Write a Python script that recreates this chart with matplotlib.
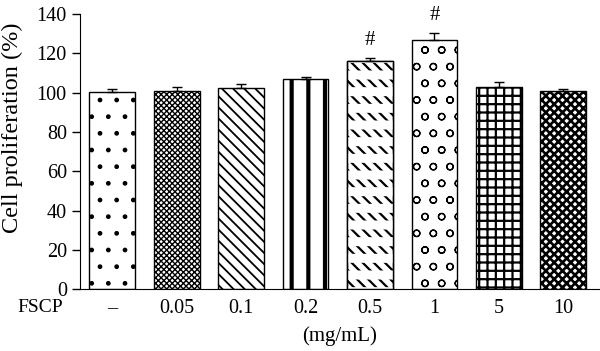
import matplotlib.pyplot as plt
import numpy as np

# data
doses = ['–', '0.05', '0.1', '0.2', '0.5', '1', '5', '10']
prolif = [100.2, 101.0, 102.6, 107.0, 116.2, 127.0, 103.0, 100.6]
err_up = [1.6, 1.8, 1.8, 0.8, 1.3, 3.6, 2.3, 1.1]
marks = ['', '', '', '', '#', '#', '', '']
hatches = ['.', 'xxxxxx', '\\\\\\', '|', '\\\\\\', 'o', '++', 'xxxx']
hatch_lw = [1.0, 1.0, 1.3, 3.0, 1.6, 0.9, 1.6, 1.9]

plt.rcParams['font.family'] = ['Liberation Serif', 'DejaVu Serif']

fig = plt.figure(figsize=(6, 3.51), dpi=100)
ax = fig.add_axes([0.1333, 0.176, 0.8667, 0.784])

x = np.arange(len(doses))
w = 0.71
for i in range(len(doses)):
    b = ax.bar(x[i], prolif[i], width=w, color='white', edgecolor='black',
               linewidth=1.0, hatch=hatches[i], zorder=2)
    try:
        b[0].set_hatch_linewidth(hatch_lw[i])
    except AttributeError:
        pass

# 0.5 mg/mL: cut the diagonal hatch into short dashed rows
cut = ax.bar(x[4], prolif[4], width=w, fill=False, edgecolor='white',
             linewidth=0, hatch='-', zorder=2.5)
try:
    cut[0].set_hatch_linewidth(6.5)
except AttributeError:
    pass
ax.bar(x[4], prolif[4], width=w, fill=False, edgecolor='black',
       linewidth=1.0, zorder=2.6)

ax.errorbar(x, prolif, yerr=[np.zeros(len(x)), err_up], fmt='none',
            ecolor='black', elinewidth=1.0, capsize=3.5, capthick=1.0, zorder=3)

for i, m in enumerate(marks):
    if m:
        ax.text(x[i], prolif[i] + err_up[i] + 4, m, ha='center', va='bottom',
                fontsize=15)

ax.set_xlim(-0.5, 7.57)
ax.set_ylim(0, 140)
ax.set_yticks(range(0, 141, 20))
ax.set_xticks(x)
ax.set_xticklabels(doses)
ax.tick_params(axis='x', length=0, labelsize=14.5, pad=7)
ax.tick_params(axis='y', length=6, width=1, labelsize=14.5, pad=3.5)
ax.spines['top'].set_visible(False)
ax.spines['right'].set_visible(False)
ax.set_xlabel('(mg/mL)', fontsize=15)
ax.xaxis.set_label_coords(0.5, -0.135)
fig.text(12 / 600, 1 - 128 / 351, 'Cell proliferation (%)', rotation=90,
         ha='center', va='center', fontsize=17.5)
fig.text(40 / 600, 1 - 308 / 351, 'FSCP', ha='center', va='center', fontsize=14)

fig.savefig('out.png', dpi=100)
